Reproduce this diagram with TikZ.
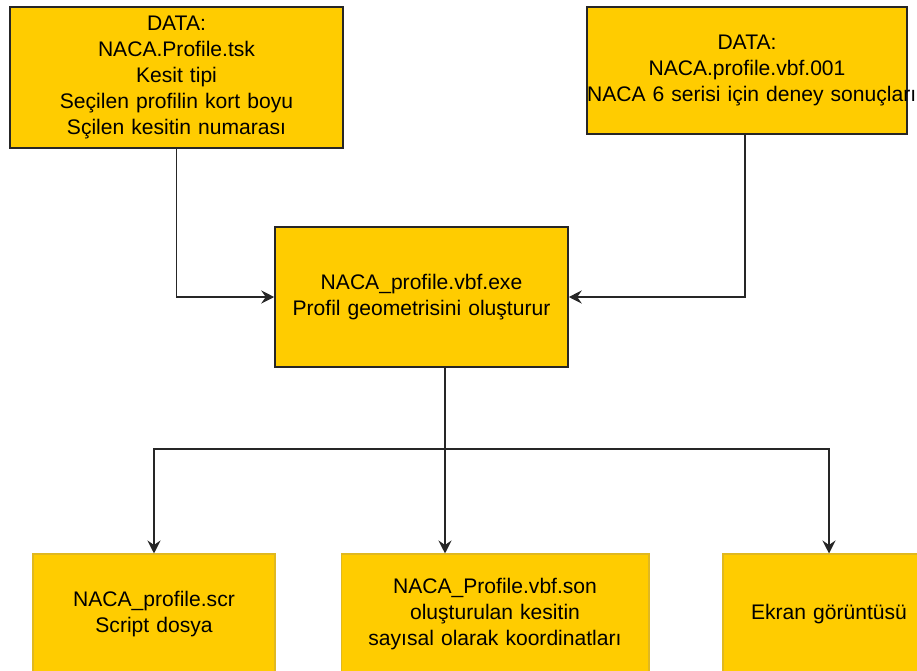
\documentclass[tikz,border=0pt]{standalone}
\usepackage{fontspec}
\setmainfont{Liberation Sans}
\usepackage{tikz}
\usetikzlibrary{arrows.meta, positioning}

\definecolor{box_fill}{HTML}{FFCC00}
\definecolor{box_edge}{HTML}{E0B820}

\begin{document}
\begin{tikzpicture}[
x=0.02cm, y=-0.02cm,
font=\fontsize{12pt}{14.8pt}\selectfont,
data_box/.style={rectangle, draw=black!85, line width=0.9pt, fill=box_fill, inner sep=0pt, align=center},
out_box/.style={rectangle, draw=box_edge, line width=0.6pt, fill=box_fill, inner sep=0pt, align=center},
flow_arrow/.style={-{Stealth[length=2.6mm, width=2.6mm, inset=0.9mm]}, line width=1pt, black!85}
]
    \useasboundingbox (0,0) rectangle (917,670);

% Draw input data boxes
    \node[data_box, text width=6.66cm, minimum height=2.82cm] (dataL) at (176.5,77.5)
        {DATA:\\NACA.Profile.tsk\\Kesit tipi\\Seçilen profilin kort boyu\\Sçilen kesitin numarası};
    \node[data_box, text width=6.4cm, minimum height=2.54cm] (dataR) at (747,70.5)
        {DATA:\\NACA.profile.vbf.001\\\mbox{NACA 6 serisi için deney sonuçları}};
% Draw program box
    \node[data_box, text width=5.86cm, minimum height=2.8cm] (exe) at (421.5,297)
        {NACA\_profile.vbf.exe\\Profil geometrisini oluşturur};
% Draw output boxes
    \node[out_box, text width=4.84cm, minimum height=2.4cm] (scr) at (154,614)
        {NACA\_profile.scr\\Script dosya};
    \node[out_box, text width=6.16cm, minimum height=2.4cm] (son) at (495,614)
        {NACA\_Profile.vbf.son\\oluşturulan kesitin\\sayısal olarak koordinatları};
    \node[out_box, text width=4.24cm, minimum height=2.4cm] (ekran) at (829,614)
        {Ekran görüntüsü};

% Draw input arrows
    \draw[flow_arrow] (dataL.south) |- (exe.west);
    \draw[flow_arrow] (dataR.south -| 745,0) |- (exe.east);
% Draw output arrows
    \coordinate (split) at (445,449);
    \draw[line width=1pt, black!85] (exe.south -| split) -- (split);
    \draw[flow_arrow] (split) -- (son.north -| split);
    \draw[flow_arrow] (split) -| (scr.north);
    \draw[flow_arrow] (split) -| (ekran.north);
\end{tikzpicture}
\end{document}
